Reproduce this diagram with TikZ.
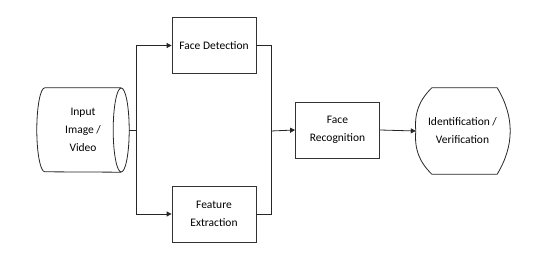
\documentclass[tikz,border=0pt]{standalone}
\usepackage{fontspec}
\setmainfont{Carlito}
\usetikzlibrary{arrows.meta,calc}

\tikzset{
	block/.style={draw=black!80, line width=0.8pt, rectangle, minimum width=84pt, minimum height=56pt, align=center, inner sep=2pt},
	plain/.style={align=center, inner sep=0pt},
	arr/.style={draw=black!85, line width=0.8pt, -{Triangle[length=5pt, width=5pt]}},
	wire/.style={draw=black!85, line width=0.8pt},
}

\begin{document}
\begin{tikzpicture}[x=1pt, y=-1pt, font=\fontsize{11.5}{18}\selectfont]
	\useasboundingbox (0, 0) rectangle (539, 259);
	\node[plain, minimum width=92pt, minimum height=84pt](Input) at (83, 130){Input\\Image /\\Video};
	\draw[wire] ($(Input.north east)+(-8, 0)$) -- ($(Input.north west)+(8, 0)$) arc[start angle=90, end angle=270, x radius=8pt, y radius=42pt] -- ($(Input.south east)+(-8, 0)$);
	\draw[wire] ($(Input.east)+(-8, 0)$) ellipse[x radius=8pt, y radius=42pt];
	\node[block](Detect) at (214, 45.5){Face Detection};
	\node[block](Extract) at (214, 214){Feature\\Extraction};
	\node[block](Recog) at (337.5, 130){Face\\Recognition};
	\node[plain, minimum width=93pt, minimum height=86pt](Ident) at (462.5, 131){Identification /\\Verification};
	\draw[wire] ($(Ident.north west)+(16, 0)$) -- ($(Ident.north east)+(-12, 0)$) to[bend left=31] ($(Ident.south east)+(-12, 0)$) -- ($(Ident.south west)+(16, 0)$) to[bend left=25] (Ident.west) to[bend left=25] cycle;
	\coordinate (Split) at (136, 130);
	\coordinate (Merge) at (271, 131);
	\draw[wire] (Input.east) -- (Split);
	\draw[arr] (Split) |- (Detect.west);
	\draw[arr] (Split) |- (Extract.west);
	\draw[wire] (Detect.east) -| (Merge);
	\draw[wire] (Extract.east) -| (Merge);
	\draw[arr] (Merge) -- (Recog.west);
	\draw[arr] (Recog.east) -- (Ident.west);
\end{tikzpicture}
\end{document}
